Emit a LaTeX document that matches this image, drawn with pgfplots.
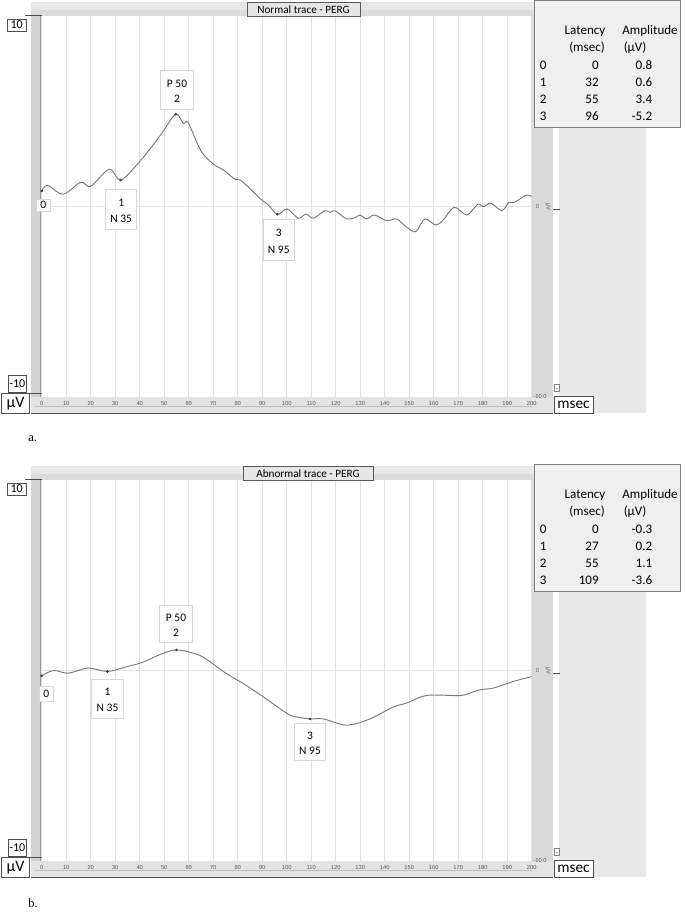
\documentclass[border=0pt]{standalone}
\usepackage{pgfplots}
\pgfplotsset{compat=1.18}
\usepackage{pgfplotstable}
\usepackage{fontspec}
\setmainfont{Carlito}
\newfontfamily\seriffont{Liberation Serif}
\newfontfamily\tickfont{Liberation Sans}

\definecolor{bgA}{HTML}{E8E8E8}
\definecolor{bgB}{HTML}{DCDCDC}
\definecolor{stripL}{HTML}{D4D4D4}
\definecolor{stripLine}{HTML}{9A9A9A}
\definecolor{bandR}{HTML}{D9D9D9}
\definecolor{tickband}{HTML}{E3E3E3}
\definecolor{darkline}{HTML}{4D4D4D}
\definecolor{gridgray}{HTML}{E2E2E2}
\definecolor{curvegray}{HTML}{7A7A7A}
\definecolor{markgray}{HTML}{404040}
\definecolor{boxgray}{HTML}{D8D8D8}
\definecolor{tablefill}{HTML}{EFEFEF}
\definecolor{tableborder}{HTML}{808080}
\definecolor{titlefill}{HTML}{E6E6E6}
\definecolor{titleborder}{HTML}{5A5A5A}
\definecolor{ticktext}{HTML}{555555}

\pgfplotstableread{
t v
0 0.82
2.4 1.12
8.8 0.65
15.9 1.28
20 1.07
27.5 1.97
32.2 1.40
38.8 2.20
44.9 3.16
49 3.87
54.7 4.88
57.8 4.40
59.8 4.43
65 2.95
70 2.25
74 1.95
78.9 1.44
81.6 1.35
89.1 0.43
92.5 0.08
96.2 -0.41
100.2 -0.13
104.7 -0.62
107.9 -0.40
110.9 -0.62
115.6 -0.22
117.7 -0.31
119.7 -0.22
124.5 -0.66
127.9 -0.59
129.9 -0.45
132.7 -0.66
135.8 -0.45
140.8 -0.75
144.9 -0.66
149 -1.10
152.7 -1.33
156.4 -0.66
160.8 -0.98
163.9 -0.71
168.4 -0.04
173.5 -0.45
178 0.12
180.2 -0.01
183.4 0.17
187.8 -0.22
190.7 0.22
192.9 0.22
198 0.61
200 0.52
}\normaltrace

\pgfplotstableread{
t v
0 0.82
32.2 1.40
54.7 4.88
96.2 -0.41
}\normalpeaks

\pgfplotstableread{
t v
0 -0.28
4.8 0.0
10.9 -0.14
19 0.13
26.8 -0.05
34 0.18
40.8 0.42
49 0.88
55 1.09
63.3 0.86
68 0.53
74.8 -0.11
83 -0.75
91.1 -1.45
99.3 -2.20
102.7 -2.42
109.5 -2.56
114.9 -2.56
124.5 -2.89
134 -2.56
143.5 -1.93
149 -1.72
157.1 -1.32
169.4 -1.33
172.8 -1.28
178.9 -1.02
184.3 -0.93
192.5 -0.58
200 -0.32
}\abnormaltrace

\pgfplotstableread{
t v
0 -0.28
26.8 -0.05
55 1.09
109.5 -2.56
}\abnormalpeaks

\newcommand{\fs}[1]{\fontsize{#1}{#1}\selectfont}

% background of a panel, #1 = vertical offset in px
\newcommand{\panelbg}[1]{%
\begin{scope}[shift={(0,#1)}]
 \fill[bgA] (31,2) rectangle (646,413);
 \fill[bgB] (31,10) rectangle (553,16);
 \fill[stripL] (31,16) rectangle (41.7,397);
 \draw[stripLine, line width=0.8pt] (40.6,16) -- (40.6,397);
 \fill[bandR] (532,16) rectangle (553,397);
 \fill[white] (553,16) rectangle (559,397);
 \fill[tickband] (31,397) rectangle (553,413);
 \draw[gray!50, line width=0.5pt] (35,406.7) -- (532,406.7);
 \draw[darkline, line width=1pt] (31,413.3) -- (553,413.3);
\end{scope}}

% overlay of a panel: #1 offset, #2 title, #3 title left, #4 title right
\newcommand{\paneloverlay}[4]{%
\begin{scope}[shift={(0,#1)}]
 \filldraw[fill=titlefill, draw=titleborder, line width=0.6pt] (#3,2.5) rectangle (#4,16);
 \node[font=\fs{8.4}, inner sep=0pt] at ({(#3+#4)/2},9.5) {#2};
 % left labels
 \draw[darkline, line width=0.6pt] (25,15.7) -- (42,15.7);
 \filldraw[fill=white, draw=darkline, line width=0.6pt] (7.3,19) rectangle (26,31);
 \node[font=\fs{9}, inner sep=0pt] at (16.6,25) {10};
 \draw[darkline, line width=0.6pt] (26.7,393.3) -- (42,393.3);
 \filldraw[fill=white, draw=darkline, line width=0.6pt] (8,375.5) rectangle (26.7,392.7);
 \node[font=\fs{9}, inner sep=0pt] at (17.3,384) {-10};
 \filldraw[fill=white, draw=darkline, line width=0.6pt] (1.7,393.3) rectangle (29.3,413.3);
 \node[font=\fs{12}, inner sep=0pt] at (15.5,403.5) {µV};
 \filldraw[fill=white, draw=darkline, line width=0.6pt] (554,396) rectangle (593,413.3);
 \node[font=\fs{11.5}, inner sep=0pt] at (573.5,404.5) {msec};
 % right small labels
 \node[font=\tickfont\fs{4.3}, text=ticktext, inner sep=0pt] at (537.5,207) {0};
 \node[font=\tickfont\fs{4.3}, text=ticktext, inner sep=0pt, rotate=-90] at (548,207) {µV};
 \draw[darkline, line width=0.5pt] (553,209.5) -- (560,209.5);
 \node[font=\tickfont\fs{4.3}, text=ticktext, inner sep=0pt] at (540,396.5) {-10.0};
 \filldraw[fill=white, draw=gray, line width=0.3pt] (554.5,384) rectangle (559.5,391);
 \fill[darkline] (557,388.5) circle (0.7);
\end{scope}}

% table: #1 offset, then 4 rows of latency / amplitude
\newcommand{\peaktable}[9]{%
\begin{scope}[shift={(0,#1)}]
 \filldraw[fill=tablefill, draw=tableborder, line width=0.6pt] (534.3,0.5) rectangle (680,127);
 \begin{scope}[every node/.style={font=\fs{9.8}, inner sep=0pt}]
 \node at (585,31) {Latency};
 \node at (650,31) {Amplitude};
 \node at (587,48) {(msec)};
 \node[anchor=west] at (623.5,48) {(µV)};
 \node at (543.3,65) {0};
 \node at (543.3,82) {1};
 \node at (543.3,99) {2};
 \node at (543.3,116) {3};
 \node[anchor=east] at (599,65) {#2};
 \node[anchor=east] at (599,82) {#4};
 \node[anchor=east] at (599,99) {#6};
 \node[anchor=east] at (599,116) {#8};
 \node[anchor=east] at (652.5,65) {#3};
 \node[anchor=east] at (652.5,82) {#5};
 \node[anchor=east] at (652.5,99) {#7};
 \node[anchor=east] at (652.5,116) {#9};
 \end{scope}
\end{scope}}

\newcommand{\lbox}[6]{% x1 y1 x2 y2 line1 line2
 \filldraw[fill=white, draw=boxgray, line width=0.7pt] (#1,#2) rectangle (#3,#4);
 \node[font=\fs{8.6}, inner sep=0pt] at ({(#1+#3)/2},{#2+(#4-#2)*0.33}) {#5};
 \node[font=\fs{8.6}, inner sep=0pt] at ({(#1+#3)/2},{#2+(#4-#2)*0.74}) {#6};}

\pgfplotsset{
 ergaxis/.style={
  anchor=south west,
  scale only axis, width=367.5pt, height=285.75pt,
  xmin=0, xmax=200, ymin=-10.08, ymax=10.08,
  axis background/.style={fill=white},
  axis line style={draw=none},
  xtick={0,10,...,200}, ytick={0}, yticklabels={},
  xmajorgrids, ymajorgrids,
  grid style={color=gridgray, line width=0.9pt},
  major tick length=0pt,
  /pgf/number format/assume math mode=true,
  xticklabel style={font=\tickfont\fs{4.3}, text=ticktext, inner sep=0pt, yshift=-3pt},
 },
 trace/.style={color=curvegray, line width=0.7pt, smooth, tension=0.55, no markers},
 peaks/.style={only marks, mark=*, mark size=0.8pt, color=markgray},
}

\begin{document}
\begin{tikzpicture}
\begin{scope}[x=0.75pt, y=-0.75pt]
 \useasboundingbox (0,0) rectangle (685,913);
 \fill[white] (0,0) rectangle (685,913);
 \panelbg{0}
 \panelbg{464}
\end{scope}

\begin{axis}[ergaxis, at={(31.275pt,-297.75pt)}]
 \addplot[trace] table[x=t, y=v] {\normaltrace};
 \addplot[peaks] table[x=t, y=v] {\normalpeaks};
\end{axis}

\begin{axis}[ergaxis, at={(31.275pt,-645.75pt)}]
 \addplot[trace] table[x=t, y=v] {\abnormaltrace};
 \addplot[peaks] table[x=t, y=v] {\abnormalpeaks};
\end{axis}

\begin{scope}[x=0.75pt, y=-0.75pt]
 \paneloverlay{0}{Normal trace - PERG}{247}{360}
 \paneloverlay{464}{Abnormal trace - PERG}{243}{373}
 \peaktable{0}{0}{0.8}{32}{0.6}{55}{3.4}{96}{-5.2}
 \peaktable{464}{0}{-0.3}{27}{0.2}{55}{1.1}{109}{-3.6}
 % label boxes, normal
 \filldraw[fill=white, draw=boxgray, line width=0.7pt] (36.7,199) rectangle (50,211.5);
 \node[font=\fs{8.6}, inner sep=0pt] at (43.3,205.3) {0};
 \lbox{105.7}{189.3}{136.7}{229}{1}{N 35}
 \lbox{160.7}{70.7}{193.3}{109}{P 50}{2}
 \lbox{263.3}{219.3}{294.3}{260}{3}{N 95}
 % label boxes, abnormal
 \filldraw[fill=white, draw=boxgray, line width=0.7pt] (39,686) rectangle (53.3,701);
 \node[font=\fs{8.6}, inner sep=0pt] at (46.2,693.5) {0};
 \lbox{91.7}{679}{123.3}{718.3}{1}{N 35}
 \lbox{159.3}{605.7}{192.7}{642.7}{P 50}{2}
 \lbox{294.3}{723.3}{325.7}{760}{3}{N 95}
 % captions
 \node[font=\seriffont\fs{9.5}, anchor=west, inner sep=0pt] at (28,439) {a.};
 \node[font=\seriffont\fs{9.5}, anchor=west, inner sep=0pt] at (28,903) {b.};
\end{scope}
\end{tikzpicture}
\end{document}
